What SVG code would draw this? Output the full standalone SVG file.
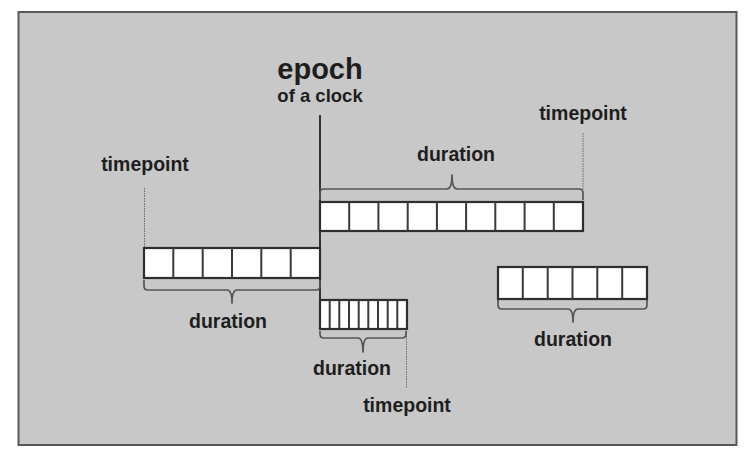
<svg xmlns="http://www.w3.org/2000/svg" width="749" height="457" viewBox="0 0 749 457">
<style>
.bar{fill:#ffffff;stroke:#2e2e2e;stroke-width:2.2}
.div{stroke:#3a3a3a;stroke-width:2}
.brace{fill:none;stroke:#555555;stroke-width:1.7;stroke-linejoin:round}
.dot{stroke:#6a6a6a;stroke-width:1;stroke-dasharray:1.5 1}
.lbl{font-family:"Liberation Sans",Arial,sans-serif;font-weight:bold;fill:#1e1e1e;font-size:19.5px;text-anchor:middle}
</style>
<rect x="0" y="0" width="749" height="457" fill="#ffffff"/>
<rect x="18.5" y="12" width="718" height="433" fill="#c8c8c8" stroke="#585858" stroke-width="2"/>

<g id="epoch">
<text class="lbl" x="320" y="79" style="font-size:29px">epoch</text>
<text class="lbl" x="320" y="102" style="font-size:18.5px">of a clock</text>
</g>

<g id="connectors">
<line x1="320" y1="115" x2="320" y2="300" stroke="#333333" stroke-width="2"/>
<line class="dot" x1="144.5" y1="188" x2="144.5" y2="248"/>
<line class="dot" x1="583" y1="133" x2="583" y2="190"/>
<line class="dot" x1="406.5" y1="331" x2="406.5" y2="388"/>
<path class="brace" d="M320,200 L320,193 Q320,189 324,189 H447 Q452,189 452,175 Q452,189 457,189 H579 Q583,189 583,193 L583,200"/>
<path class="brace" d="M144,280 L144,286 Q144,290 148,290 H227 Q232,290 232,303 Q232,290 237,290 H316 Q320,290 320,286 L320,280"/>
<path class="brace" d="M320,331 L320,334 Q320,338 324,338 H358 Q363,338 363,352 Q363,338 368,338 H402 Q406,338 406,334 L406,331"/>
<path class="brace" d="M498,300 L498,305 Q498,309 502,309 H568 Q573,309 573,322 Q573,309 578,309 H643 Q647,309 647,305 L647,300"/>
</g>

<g id="bar-top">
<rect class="bar" x="320" y="202" width="263" height="29"/>
<path class="div" d="M349.2,202V231M378.4,202V231M407.7,202V231M436.9,202V231M466.1,202V231M495.3,202V231M524.6,202V231M553.8,202V231"/>
</g>

<g id="bar-left">
<rect class="bar" x="144" y="248" width="176" height="30"/>
<path class="div" d="M173.3,248V278M202.7,248V278M232,248V278M261.3,248V278M290.7,248V278"/>
</g>

<g id="bar-small">
<rect class="bar" x="320" y="300" width="87" height="29"/>
<path class="div" d="M329.7,300V329M339.3,300V329M349,300V329M358.7,300V329M368.3,300V329M378,300V329M387.7,300V329M397.3,300V329"/>
</g>

<g id="bar-right">
<rect class="bar" x="498" y="267" width="149" height="32"/>
<path class="div" d="M522.8,267V299M547.7,267V299M572.5,267V299M597.3,267V299M622.2,267V299"/>
</g>

<g id="labels">
<text class="lbl" x="583" y="120">timepoint</text>
<text class="lbl" x="456" y="161">duration</text>
<text class="lbl" x="145" y="171">timepoint</text>
<text class="lbl" x="228" y="328">duration</text>
<text class="lbl" x="352" y="375">duration</text>
<text class="lbl" x="407" y="412">timepoint</text>
<text class="lbl" x="573" y="346">duration</text>
</g>
</svg>
